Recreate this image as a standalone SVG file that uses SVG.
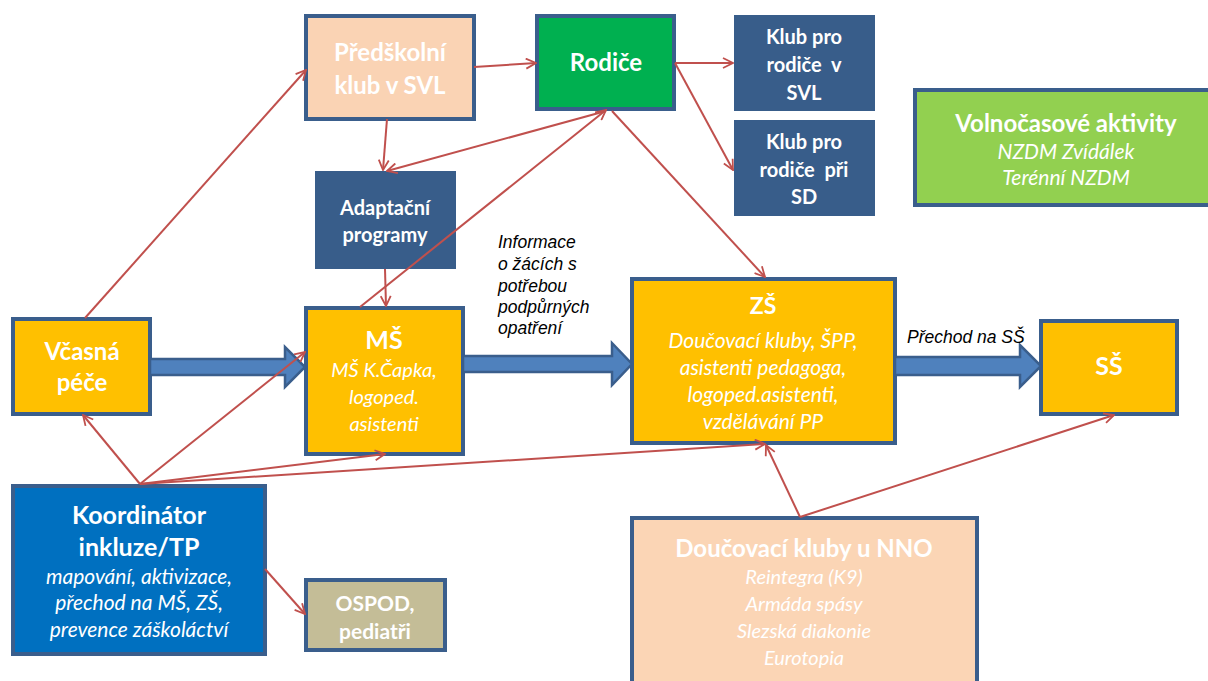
<svg xmlns="http://www.w3.org/2000/svg" width="1208" height="681" viewBox="0 0 1208 681">
<defs>
<style>
.box{stroke:#3A5E8C;stroke-width:4}
.t{font-family:Lato,"Open Sans","Liberation Sans",sans-serif;fill:#fff;text-anchor:middle}
.b{font-weight:bold}
.i{font-style:italic}
.lbl{font-family:"Liberation Sans",Arial,sans-serif;font-style:italic;fill:#000;font-size:17.5px}
.red{stroke:#C0504D;stroke-width:2;fill:none;marker-end:url(#oa)}
.big{fill:#4F81BD;stroke:#3A5E8C;stroke-width:2.5}
</style>
<marker id="oa" viewBox="0 0 12 12" refX="11" refY="6" markerWidth="12" markerHeight="12" markerUnits="userSpaceOnUse" orient="auto">
<path d="M1,1 L11,6 L1,11" fill="none" stroke="#C0504D" stroke-width="1.8"/>
</marker>
</defs>
<rect width="1208" height="681" fill="#fff"/>

<g id="predskolni"><rect class="box" x="306" y="16" width="168" height="103" fill="#FAD3B4"/>
<text class="t b" font-size="24" x="390" y="61">Předškolní</text><text class="t b" font-size="24" x="390" y="94">klub v SVL</text></g>

<g id="rodice"><rect class="box" x="537" y="16" width="137" height="93" fill="#00B050"/>
<text class="t b" font-size="24" x="606" y="71">Rodiče</text></g>

<g id="klub-svl"><rect x="734" y="15" width="141" height="96" fill="#385D8A"/>
<text class="t b" font-size="20" x="804" y="44">Klub pro</text><text class="t b" font-size="20" x="804" y="72" xml:space="preserve">rodiče  v</text><text class="t b" font-size="20" x="804" y="100">SVL</text></g>

<g id="klub-sd"><rect x="734" y="120" width="141" height="96" fill="#385D8A"/>
<text class="t b" font-size="20" x="804" y="149">Klub pro</text><text class="t b" font-size="20" x="804" y="177" xml:space="preserve">rodiče  při</text><text class="t b" font-size="20" x="804" y="204">SD</text></g>

<g id="volnocasove"><rect class="box" x="915" y="90" width="295" height="115" fill="#92D050"/>
<text class="t b" font-size="24" x="1066" y="132">Volnočasové aktivity</text>
<text class="t i" font-size="21" x="1066" y="159">NZDM Zvídálek</text><text class="t i" font-size="21" x="1066" y="185">Terénní NZDM</text></g>

<g id="adaptacni"><rect x="315" y="171" width="141" height="98" fill="#385D8A"/>
<text class="t b" font-size="20" x="385" y="215">Adaptační</text><text class="t b" font-size="20" x="385" y="242">programy</text></g>

<g id="vcasna"><rect class="box" x="13" y="319" width="137" height="95" fill="#FFC000"/>
<text class="t b" font-size="24" x="82" y="360">Včasná</text><text class="t b" font-size="24" x="82" y="391">péče</text></g>

<g id="ms"><rect class="box" x="306" y="308" width="157" height="146" fill="#FFC000"/>
<text class="t b" font-size="25" x="384" y="349">MŠ</text>
<text class="t i" font-size="20" x="384" y="377">MŠ K.Čapka,</text><text class="t i" font-size="20" x="384" y="404">logoped.</text><text class="t i" font-size="20" x="384" y="431">asistenti</text></g>

<g id="zs"><rect class="box" x="632" y="279" width="263" height="164" fill="#FFC000"/>
<text class="t b" font-size="23" x="763" y="314">ZŠ</text>
<text class="t i" font-size="21" x="763" y="348">Doučovací kluby, ŠPP,</text><text class="t i" font-size="21" x="763" y="375">asistenti pedagoga,</text><text class="t i" font-size="21" x="763" y="402">logoped.asistenti,</text><text class="t i" font-size="21" x="763" y="429">vzdělávání PP</text></g>

<g id="ss"><rect class="box" x="1041" y="321" width="136" height="93" fill="#FFC000"/>
<text class="t b" font-size="25" x="1109" y="375">SŠ</text></g>

<g id="koordinator"><rect class="box" x="13" y="486" width="252" height="168" fill="#0070C0"/>
<text class="t b" font-size="25" x="139" y="524">Koordinátor</text><text class="t b" font-size="25" x="139" y="556">inkluze/TP</text>
<text class="t i" font-size="21" x="139" y="584">mapování, aktivizace,</text><text class="t i" font-size="21" x="139" y="610">přechod na MŠ, ZŠ,</text><text class="t i" font-size="21" x="139" y="637">prevence záškoláctví</text></g>

<g id="ospod"><rect class="box" x="306" y="580" width="139" height="70" fill="#C4BD97"/>
<text class="t b" font-size="21" x="375" y="611">OSPOD,</text><text class="t b" font-size="21" x="375" y="639">pediatři</text></g>

<g id="nno"><rect class="box" x="632" y="518" width="345" height="170" fill="#FBD5B5"/>
<text class="t b" font-size="24" x="804" y="557">Doučovací kluby u NNO</text>
<text class="t i" font-size="20" x="804" y="584">Reintegra (K9)</text><text class="t i" font-size="20" x="804" y="611">Armáda spásy</text><text class="t i" font-size="20" x="804" y="638">Slezská diakonie</text><text class="t i" font-size="20" x="804" y="665">Eurotopia</text></g>

<g id="connectors">
<path class="big" d="M150,359 L285,359 L285,347 L305,367 L285,387 L285,375 L150,375 Z"/>
<path class="big" d="M463,356 L612,356 L612,343 L632,364 L612,385 L612,372 L463,372 Z"/>
<path class="big" d="M895,357 L1020,357 L1020,345 L1041,366 L1020,387 L1020,375 L895,375 Z"/>
<line class="red" x1="85" y1="318" x2="306" y2="70"/>
<line class="red" x1="474" y1="67" x2="536" y2="63"/>
<line class="red" x1="387" y1="119" x2="383" y2="170"/>
<line class="red" x1="606" y1="111" x2="387" y2="171"/>
<line class="red" x1="360" y1="307" x2="606" y2="110"/>
<line class="red" x1="385" y1="269" x2="386" y2="306"/>
<line class="red" x1="612" y1="111" x2="765" y2="277"/>
<line class="red" x1="675" y1="63" x2="733" y2="63"/>
<line class="red" x1="675" y1="63" x2="733" y2="170"/>
<line class="red" x1="140" y1="484" x2="83" y2="415"/>
<line class="red" x1="140" y1="484" x2="305" y2="352"/>
<line class="red" x1="140" y1="484" x2="385" y2="454"/>
<line class="red" x1="140" y1="484" x2="765" y2="444"/>
<line class="red" x1="265" y1="569" x2="305" y2="614"/>
<line class="red" x1="800" y1="517" x2="766" y2="445"/>
<line class="red" x1="800" y1="517" x2="1114" y2="415"/>
</g>

<text class="lbl" x="498" y="248">Informace</text>
<text class="lbl" x="498" y="270">o žácích s</text>
<text class="lbl" x="498" y="292">potřebou</text>
<text class="lbl" x="498" y="313">podpůrných</text>
<text class="lbl" x="498" y="334">opatření</text>
<text class="lbl" x="907" y="343">Přechod na SŠ</text>
</svg>
